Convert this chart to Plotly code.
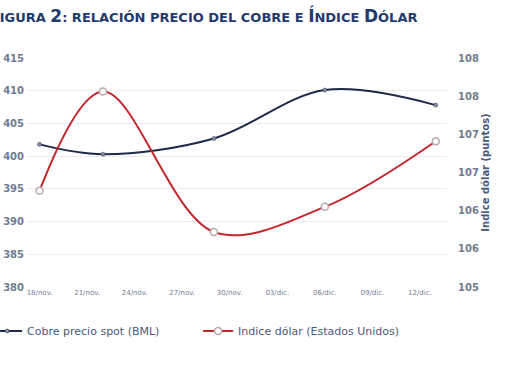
import plotly.graph_objects as go

dates = ["2022-11-18", "2022-11-22", "2022-11-29", "2022-12-06", "2022-12-13"]
cobre = [401.8, 400.3, 402.7, 410.1, 407.8]
dolar = [106.26, 107.56, 105.72, 106.05, 106.91]

xtick_vals = ["2022-11-18", "2022-11-21", "2022-11-24", "2022-11-27", "2022-11-30",
              "2022-12-03", "2022-12-06", "2022-12-09", "2022-12-12"]
xtick_text = ["18/nov.", "21/nov.", "24/nov.", "27/nov.", "30/nov.",
              "03/dic.", "06/dic.", "09/dic.", "12/dic."]
y2_vals = [105, 105.5, 106, 106.5, 107, 107.5, 108]
y2_text = ["105", "106", "106", "107", "107", "108", "108"]

tick_col = "#6f7c90"
text_col = "#4a5a78"

fig = go.Figure()
fig.add_trace(go.Scatter(
    x=dates, y=cobre, name="Cobre precio spot (BML)", mode="lines+markers",
    line=dict(color="#1e2a48", width=2, shape="spline", smoothing=1),
    marker=dict(symbol="circle", size=4, color="#8a93a6", line=dict(color="#1e2a48", width=0.5)),
))
fig.add_trace(go.Scatter(
    x=dates, y=dolar, name="Indice dólar (Estados Unidos)", mode="lines+markers", yaxis="y2",
    line=dict(color="#c4262e", width=2, shape="spline", smoothing=1),
    marker=dict(symbol="circle", size=7, color="white", line=dict(color="#b9a9ab", width=1.5)),
))

title = ("<span style='font-size:17px'>F</span>IGURA <span style='font-size:17px'>2</span>: "
         "RELACIÓN PRECIO DEL COBRE E <span style='font-size:17px'>Í</span>NDICE "
         "<span style='font-size:17px'>D</span>ÓLAR")
fig.add_annotation(
    text=title, xref="paper", yref="paper", x=-0.098, y=1.185,
    xanchor="left", yanchor="middle", showarrow=False,
    font=dict(family="DejaVu Sans", size=13, color="#1f3a6e", weight="bold"),
)

fig.update_layout(
    width=510, height=382,
    margin=dict(l=27, r=63, t=58, b=95, autoexpand=False),
    paper_bgcolor="white", plot_bgcolor="white",
    showlegend=True,
    legend=dict(orientation="h", x=-0.095, y=-0.192, xanchor="left", yanchor="middle",
                font=dict(family="DejaVu Sans", size=11, color=text_col),
                entrywidth=166, entrywidthmode="pixels", itemwidth=30),
    xaxis=dict(type="date", range=["2022-11-17 05:00", "2022-12-13 17:00"],
               tickvals=xtick_vals, ticktext=xtick_text, showgrid=False,
               showline=False, zeroline=False, ticks="",
               tickfont=dict(family="DejaVu Sans", size=7, color=tick_col)),
    yaxis=dict(range=[380, 415], tickvals=[380, 385, 390, 395, 400, 405, 410, 415],
               showgrid=True, gridcolor="#ececec", gridwidth=1, zeroline=False,
               ticks="", ticklabelstandoff=2,
               tickfont=dict(family="DejaVu Sans", size=10, color=tick_col, weight="bold")),
    yaxis2=dict(range=[105, 108], tickvals=y2_vals, ticktext=y2_text, overlaying="y",
                side="right", showgrid=False, zeroline=False, ticks="",
                ticklabelstandoff=10,
                tickfont=dict(family="DejaVu Sans", size=10, color=tick_col, weight="bold"),
                title=dict(text="Indice dólar (puntos)", standoff=4,
                           font=dict(family="DejaVu Sans", size=10, color=text_col, weight="bold"))),
)

fig.write_html("out.html", config={"displayModeBar": False},
               post_script="document.body.style.margin='0';")
